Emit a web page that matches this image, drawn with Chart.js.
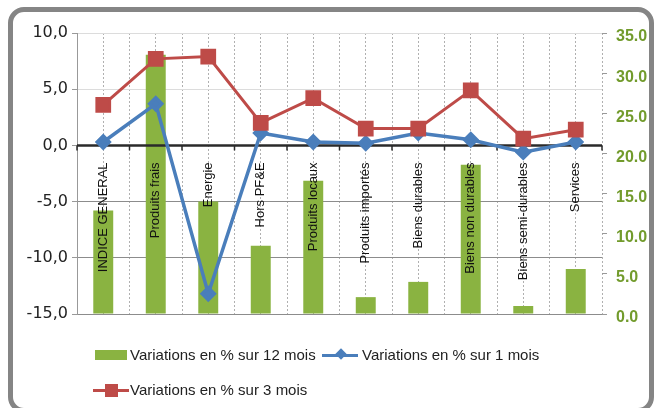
<!DOCTYPE html>
<html>
<head>
<meta charset="utf-8">
<script src="https://cdn.jsdelivr.net/npm/chart.js@4/dist/chart.umd.min.js"></script>
<style>
  body { margin: 0; background: #fff; }
  #wrap { position: relative; width: 654px; height: 408px; overflow: hidden; }
  #frame { position: absolute; left: 8px; top: 7px; width: 636px; height: 396px;
           border: 5px solid #858585; border-radius: 16px; }
  #salesChart { position: absolute; left: 0; top: 0; }
  .leg { position: absolute; font: 15px "Liberation Sans", Arial, sans-serif; color: #222; white-space: nowrap; }
  .box { position: absolute; width: 32px; height: 10px; background: #8ab341; }
  .ln { position: absolute; width: 36px; height: 3px; }
  .mk { position: absolute; }
</style>
</head>
<body>
<div id="wrap">
  <div id="frame"></div>
  <canvas id="salesChart" width="654" height="408"></canvas>

  <div class="box" style="left:95px; top:350px;"></div>
  <div class="leg" style="left:130px; top:346px;">Variations en % sur 12 mois</div>

  <div class="ln" style="left:322px; top:354px; background:#4a7ebb;"></div>
  <div class="mk" style="left:337px; top:350px; width:8px; height:8px; background:#4a7ebb; transform:rotate(45deg);"></div>
  <div class="leg" style="left:362px; top:346px;">Variations en % sur 1 mois</div>

  <div class="ln" style="left:93px; top:389px; background:#be4b48;"></div>
  <div class="mk" style="left:105px; top:384px; width:13px; height:13px; background:#be4b48;"></div>
  <div class="leg" style="left:130px; top:381px;">Variations en % sur 3 mois</div>
</div>

<script>
const categories = ['INDICE GENERAL', 'Produits frais', 'Energie', 'Hors PF&E', 'Produits locaux',
  'Produits importés', 'Biens durables', 'Biens non durables', 'Biens semi-durables', 'Services'];

// barres : axe de droite
const var12Mois = [12.9, 32.3, 14.0, 8.5, 16.6, 2.1, 4.0, 18.6, 1.0, 5.6];
// courbes : axe de gauche
const var1Mois = [0.3, 3.7, -13.2, 1.1, 0.3, 0.2, 1.1, 0.5, -0.6, 0.3];
const var3Mois = [3.6, 7.7, 7.9, 2.0, 4.2, 1.5, 1.5, 4.9, 0.6, 1.4];

const leftTicks = { min: -15, max: 10, step: 5 };
const rightTicks = { min: 0, max: 35, step: 5 };

// ligne du zero + libelles des categories, dessines entre les barres et les courbes
const zeroAxisPlugin = {
  id: 'zeroAxis',
  afterDatasetDraw(chart, args) {
    if (args.index !== 0) return;
    const c = chart.ctx;
    const area = chart.chartArea;
    const y0 = chart.scales.y.getPixelForValue(0);
    c.save();
    c.strokeStyle = '#2a2a2a';
    c.lineWidth = 2.5;
    c.beginPath();
    c.moveTo(area.left, y0);
    c.lineTo(area.right, y0);
    c.stroke();
    const n = categories.length;
    const w = (area.right - area.left) / n;
    c.lineWidth = 1.5;
    for (let i = 0; i <= n; i++) {
      const x = area.left + i * w;
      c.beginPath();
      c.moveTo(x, y0);
      c.lineTo(x, y0 + 5);
      c.stroke();
    }
    c.fillStyle = '#111';
    c.font = '13px "Liberation Sans", Arial, sans-serif';
    c.textAlign = 'right';
    c.textBaseline = 'middle';
    categories.forEach((label, i) => {
      const x = chart.scales.x.getPixelForValue(i);
      c.save();
      c.translate(x, y0 + 17);
      c.rotate(-Math.PI / 2);
      c.fillText(label, 0, 0);
      c.restore();
    });
    c.restore();
  }
};

const ctx = document.getElementById('salesChart').getContext('2d');
const chart = new Chart(ctx, {
  data: {
    labels: categories,
    datasets: [
      {
        type: 'bar',
        label: 'Variations en % sur 12 mois',
        data: var12Mois,
        yAxisID: 'y1',
        backgroundColor: '#8ab341',
        barPercentage: 0.38,
        categoryPercentage: 1,
        order: 3
      },
      {
        type: 'line',
        label: 'Variations en % sur 1 mois',
        data: var1Mois,
        yAxisID: 'y',
        borderColor: '#4a7ebb',
        backgroundColor: '#4a7ebb',
        borderWidth: 3.5,
        pointStyle: 'rectRot',
        pointRadius: 6,
        tension: 0,
        order: 2
      },
      {
        type: 'line',
        label: 'Variations en % sur 3 mois',
        data: var3Mois,
        yAxisID: 'y',
        borderColor: '#be4b48',
        backgroundColor: '#be4b48',
        borderWidth: 3,
        pointStyle: 'rect',
        pointRadius: 9,
        tension: 0,
        order: 1
      }
    ]
  },
  options: {
    responsive: false,
    animation: false,
    layout: { padding: { top: 33, bottom: 94, left: 0, right: 0 } },
    plugins: { legend: { display: false }, tooltip: { enabled: false } },
    scales: {
      x: {
        offset: true,
        grid: { offset: false, color: '#b0b0b0', drawTicks: false },
        border: { display: false, dash: [2, 2] },
        ticks: { display: false },
        afterFit(s) { s.height = 0; }
      },
      x2: {
        type: 'category',
        labels: categories,
        offset: true,
        grid: { offset: true, color: '#b0b0b0', drawTicks: false },
        border: { display: false, dash: [2, 2] },
        ticks: { display: false },
        afterFit(s) { s.height = 0; }
      },
      y: {
        position: 'left',
        min: leftTicks.min,
        max: leftTicks.max,
        ticks: {
          stepSize: leftTicks.step,
          padding: 4,
          color: '#222',
          font: { family: 'DejaVu Sans', size: 16 },
          callback: v => v.toFixed(1).replace('.', ',')
        },
        grid: {
          tickLength: 5,
          tickColor: '#999',
          color: c => c.tick.value === 0 ? '#333' : (c.tick.value < 0 ? '#8c8c8c' : '#dcdcdc')
        },
        border: { color: '#999', width: 1 },
        afterFit(s) { s.width = 77; }
      },
      y1: {
        position: 'right',
        min: rightTicks.min,
        max: rightTicks.max,
        ticks: {
          stepSize: rightTicks.step,
          padding: 9,
          labelOffset: 4,
          color: '#729b2c',
          font: { family: 'Liberation Sans', size: 16, weight: 'bold' },
          callback: v => v.toFixed(1)
        },
        grid: { drawOnChartArea: false, tickLength: 5, tickColor: '#999' },
        border: { display: false },
        afterFit(s) { s.width = 52; }
      }
    }
  },
  plugins: [zeroAxisPlugin]
});
</script>
</body>
</html>
